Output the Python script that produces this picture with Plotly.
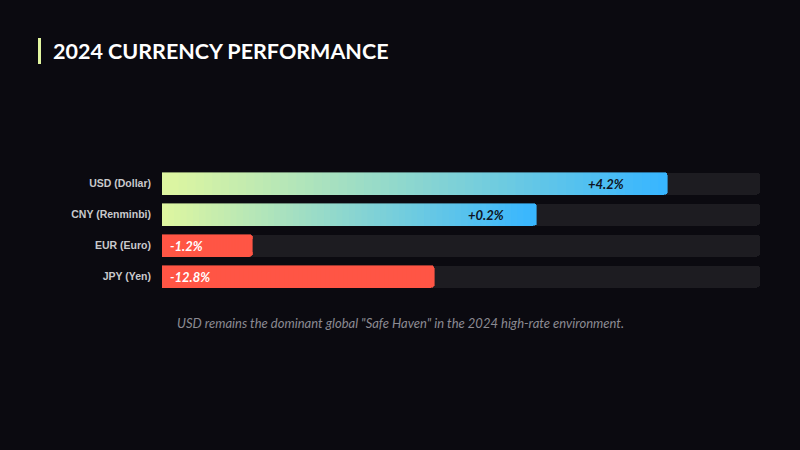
import plotly.graph_objects as go

# ---- data ----
currencies = ["USD (Dollar)", "CNY (Renminbi)", "EUR (Euro)", "JPY (Yen)"]
change_pct = [4.2, 0.2, -1.2, -12.8]          # labelled performance
bar_strength = [84.5, 62.6, 15.1, 45.5]        # displayed bar length (0-100 track)
track_max = 100
caption = 'USD remains the dominant global "Safe Haven" in the 2024 high-rate environment.'
title = "2024 CURRENCY PERFORMANCE"

# ---- style ----
BG = "#0b0a10"
TRACK = "#1d1c21"
LIME = (222, 246, 160)
BLUE = (56, 182, 255)
RED = "#ff5545"
N_SEG = 60


def lerp(c1, c2, t):
    return "rgb(%d,%d,%d)" % tuple(round(a + (b - a) * t) for a, b in zip(c1, c2))


fig = go.Figure()

# background tracks (base axes)
fig.add_trace(go.Bar(
    y=currencies, x=[track_max] * len(currencies), orientation="h",
    marker=dict(color=TRACK, line=dict(width=0)),
    hoverinfo="skip", showlegend=False, xaxis="x", yaxis="y",
))

# value bars on overlaying axes; gradient built from stacked slices
for k in range(N_SEG):
    t = k / (N_SEG - 1)
    xs, cols = [], []
    for v, w in zip(change_pct, bar_strength):
        xs.append(w / N_SEG)
        cols.append(lerp(LIME, BLUE, t) if v > 0 else RED)
    fig.add_trace(go.Bar(
        y=currencies, x=xs, orientation="h",
        marker=dict(color=cols, line=dict(width=0.6, color=cols)),
        hoverinfo="skip", showlegend=False, xaxis="x2", yaxis="y2",
    ))

# value labels
for cur, v, w in zip(currencies, change_pct, bar_strength):
    txt = ("+%.1f%%" % v) if v > 0 else ("%.1f%%" % v)
    if v > 0:
        fig.add_annotation(x=w * 0.918, y=cur, xref="x2", yref="y2", text="<b><i>%s</i></b>" % txt,
                           showarrow=False, xanchor="right", yanchor="middle",
                           font=dict(family="Lato", size=13, color="#0d1424"))
    else:
        fig.add_annotation(x=0, y=cur, xref="x2", yref="y2", text="<b><i>%s</i></b>" % txt,
                           showarrow=False, xanchor="left", yanchor="middle", xshift=6,
                           font=dict(family="Lato", size=13, color="#ffffff"))

L, R, T, B = 162, 40, 168, 158
W, H = 800, 450
pw, ph = W - L - R, H - T - B


def px_x(p):
    return (p - L) / pw


def px_y(p):
    return (H - B - p) / ph


# title + accent
fig.add_shape(type="line", xref="paper", yref="paper",
              x0=px_x(39.5), x1=px_x(39.5), y0=px_y(38), y1=px_y(64),
              line=dict(color="#e2f5a0", width=3))
fig.add_annotation(x=px_x(51), y=px_y(51), xref="paper", yref="paper",
                   text="<b>%s</b>" % title, showarrow=False, xanchor="left", yanchor="middle",
                   font=dict(family="Lato", size=21.5, color="#ffffff"))
fig.add_annotation(x=px_x(400), y=px_y(323), xref="paper", yref="paper",
                   text="<i>%s</i>" % caption, showarrow=False, xanchor="center", yanchor="middle",
                   font=dict(family="Lato", size=13, color="#8c8b93"))

yax = dict(categoryorder="array", categoryarray=currencies, autorange="reversed",
           showgrid=False, zeroline=False, showline=False, ticks="")
fig.update_layout(
    width=W, height=H, paper_bgcolor=BG, plot_bgcolor=BG,
    margin=dict(l=L, r=R, t=T, b=B),
    barmode="stack", bargap=0.29, barcornerradius=3,
    xaxis=dict(range=[0, track_max], visible=False, fixedrange=True),
    xaxis2=dict(range=[0, track_max], visible=False, overlaying="x", fixedrange=True),
    yaxis=dict(**yax, ticklabelstandoff=10,
               tickfont=dict(family="Liberation Sans", size=10.5, color="#c9c9cc", weight="bold")),
    yaxis2=dict(**yax, overlaying="y", showticklabels=False),
    showlegend=False,
)

fig.write_html("out.html", config={"displayModeBar": False},
               post_script="document.body.style.margin='0';document.body.style.background='%s';" % BG)
